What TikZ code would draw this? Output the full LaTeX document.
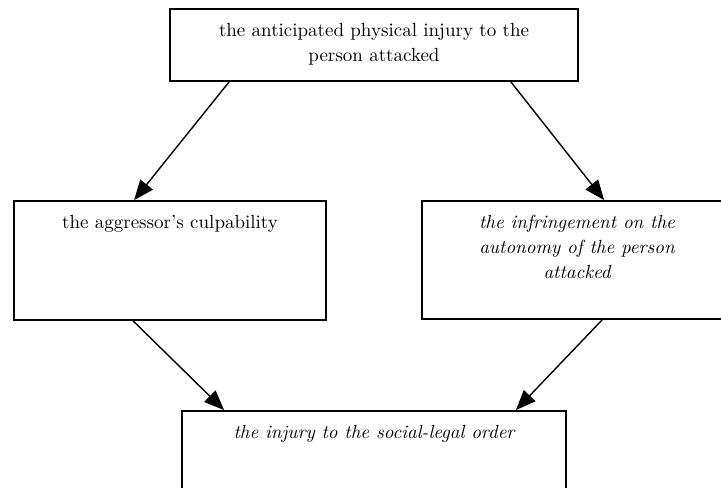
\documentclass[tikz,border=0pt]{standalone}
\usepackage{tikz}
\usetikzlibrary{positioning}
\usetikzlibrary{arrows.meta}
\tikzset{box node/.style={rectangle,draw,line width=0.9pt,inner sep=0pt,font=\fontsize{9.5}{12.5}\selectfont},}
\newcommand{\boxtext}[3]{\parbox[c][#1][t]{#2}{\vspace*{5pt}\centering\strut #3\par}}

\begin{document}
\begin{tikzpicture}[x=0.5pt, y=-0.5pt, >={Triangle[length=10pt,width=8pt]}]
	\useasboundingbox (0,0) rectangle (721,487);
	\clip (0,0) rectangle (721,487);
	\node[box node] (harm) at (374,45) {\boxtext{36pt}{204pt}{the anticipated physical injury to the\\ person attacked}};
	\node[box node] (culp) at (170,260.5) {\boxtext{59.5pt}{156pt}{the aggressor's culpability}};
	\node[box node] (auto) at (577,260) {\boxtext{59pt}{155pt}{\itshape the infringement on the\\ autonomy of the person\\ attacked}};
	\node[box node] (order) at (374,456) {\boxtext{45pt}{192pt}{\itshape the injury to the social-legal order}};

	\path[->,line width=0.7pt]
	([xshift=30pt]harm.south west) edge ([xshift=60.5pt]culp.north west)
	([xshift=-34pt]harm.south east) edge ([xshift=91.5pt]auto.north west)
	([xshift=60pt]culp.south west) edge ([xshift=21.5pt]order.north west)
	([xshift=90.5pt]auto.south west) edge ([xshift=-25.5pt]order.north east);
\end{tikzpicture}
\end{document}
